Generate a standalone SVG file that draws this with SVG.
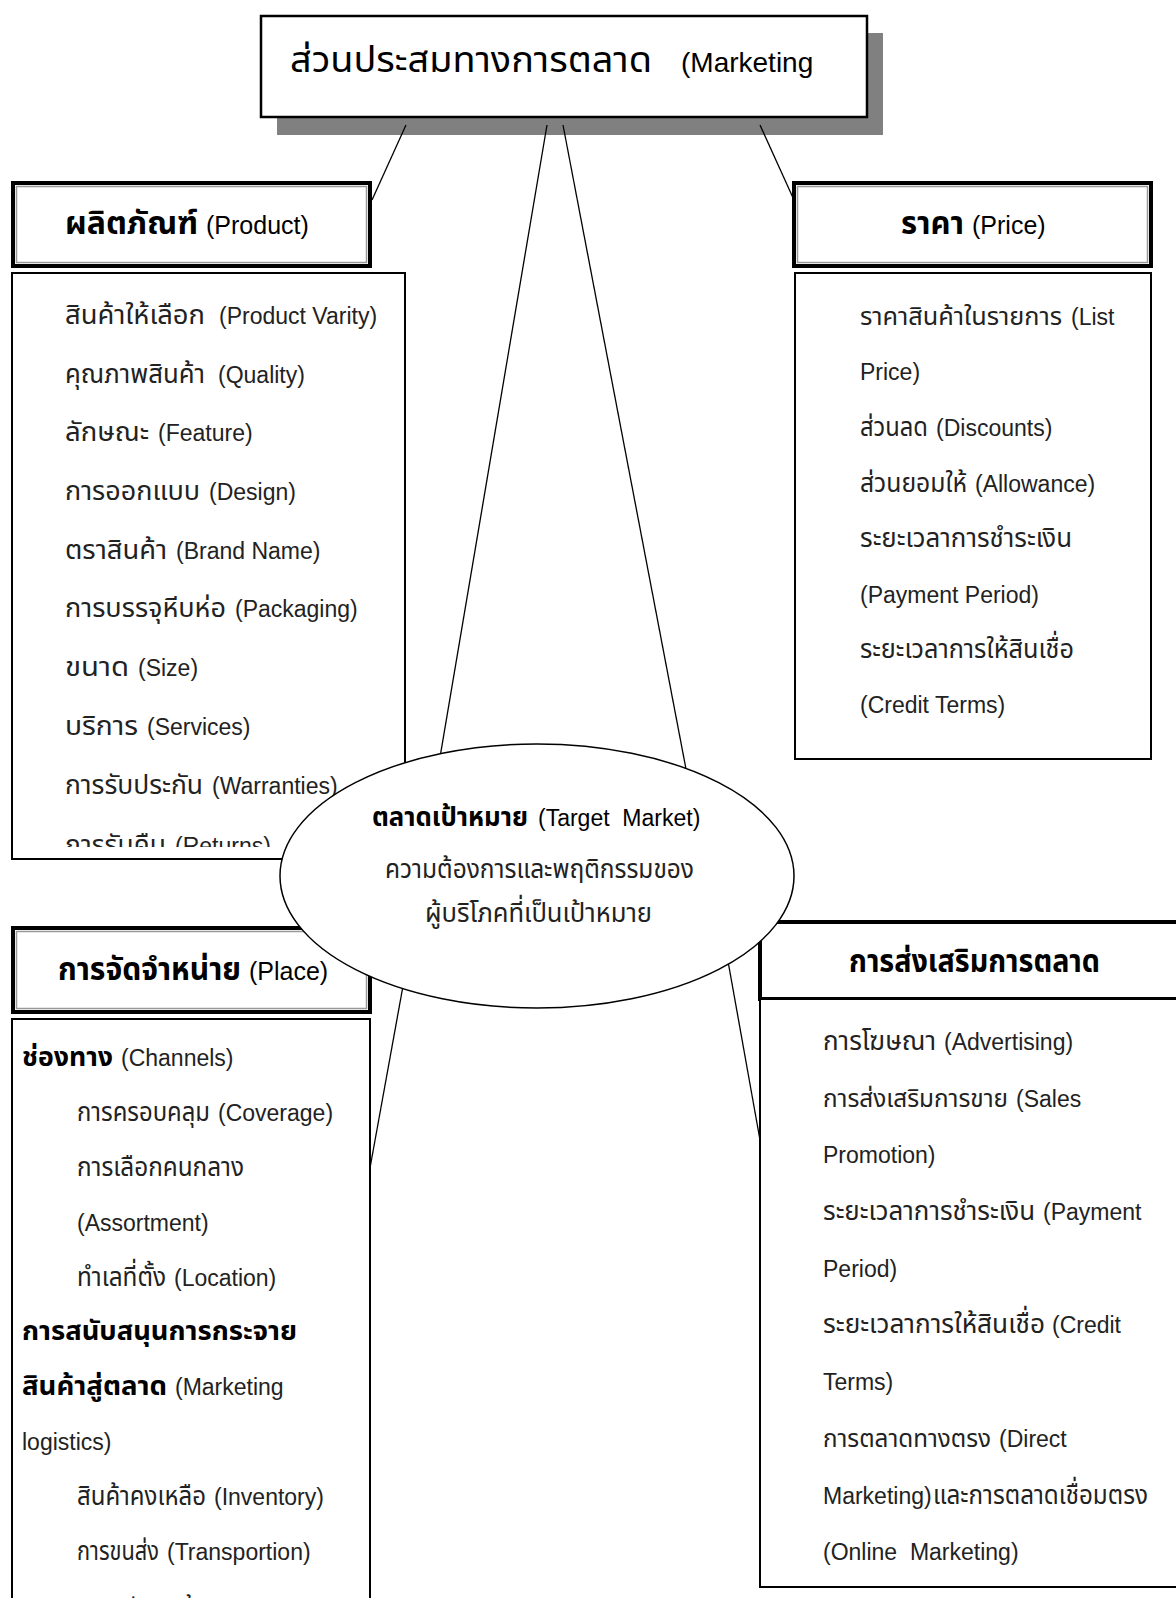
<svg xmlns="http://www.w3.org/2000/svg" width="1176" height="1598" viewBox="0 0 1176 1598">
<style>
text{font-family:"Liberation Sans","Noto Sans Thai","Noto Sans","DejaVu Sans",sans-serif;fill:#000;white-space:pre}
.t{font-size:28px}
.h{font-size:25px}
.i{font-size:23px;fill:#222}
.tt{font-size:36px}
.th{font-size:31px}
.ti{font-size:27px}
.ts{font-size:25px}
.b{font-weight:bold}
.k{fill:#000}
.box{fill:#fff;stroke:#000;stroke-width:2}
.frame{fill:#fff;stroke:#000;stroke-width:4}
.inner{fill:none;stroke:#999;stroke-width:1.5}
.con{stroke:#000;stroke-width:1.3;fill:none}
</style>
<defs>
<clipPath id="clipProd"><rect x="12" y="273" width="393" height="574"/></clipPath>
</defs>
<rect width="1176" height="1598" fill="#fff"/>

<g id="title">
<rect x="277" y="33" width="606" height="102" fill="#808080"/>
<rect x="261" y="16" width="606" height="101" fill="#fff" stroke="#000" stroke-width="2.5"/>
<text class="t" x="290" y="72"><tspan class="tt" textLength="362" lengthAdjust="spacingAndGlyphs">ส่วนประสมทางการตลาด</tspan><tspan x="681">(Marketing</tspan></text>
</g>

<g id="product">
<rect class="frame" x="13" y="183" width="357" height="83"/>
<rect class="inner" x="16.5" y="186.5" width="350" height="76"/>
<text class="h" x="65" y="234"><tspan class="th b" textLength="133" lengthAdjust="spacingAndGlyphs">ผลิตภัณฑ์</tspan><tspan x="206">(Product)</tspan></text>
<rect class="box" x="12" y="273" width="393" height="586"/>
<g clip-path="url(#clipProd)">
<text class="i" x="65" y="324"><tspan class="ti" textLength="140" lengthAdjust="spacingAndGlyphs">สินค้าให้เลือก</tspan><tspan x="219">(Product Varity)</tspan></text>
<text class="i" x="65" y="383"><tspan class="ti" textLength="140" lengthAdjust="spacingAndGlyphs">คุณภาพสินค้า</tspan><tspan x="218">(Quality)</tspan></text>
<text class="i" x="65" y="441"><tspan class="ti" textLength="84" lengthAdjust="spacingAndGlyphs">ลักษณะ</tspan><tspan x="158">(Feature)</tspan></text>
<text class="i" x="65" y="500"><tspan class="ti" textLength="135" lengthAdjust="spacingAndGlyphs">การออกแบบ</tspan><tspan x="209">(Design)</tspan></text>
<text class="i" x="65" y="559"><tspan class="ti" textLength="102" lengthAdjust="spacingAndGlyphs">ตราสินค้า</tspan><tspan x="176">(Brand Name)</tspan></text>
<text class="i" x="65" y="617"><tspan class="ti" textLength="161" lengthAdjust="spacingAndGlyphs">การบรรจุหีบห่อ</tspan><tspan x="235">(Packaging)</tspan></text>
<text class="i" x="65" y="676"><tspan class="ti" textLength="64" lengthAdjust="spacingAndGlyphs">ขนาด</tspan><tspan x="138">(Size)</tspan></text>
<text class="i" x="65" y="735"><tspan class="ti" textLength="73" lengthAdjust="spacingAndGlyphs">บริการ</tspan><tspan x="147">(Services)</tspan></text>
<text class="i" x="65" y="794"><tspan class="ti" textLength="138" lengthAdjust="spacingAndGlyphs">การรับประกัน</tspan><tspan x="212">(Warranties)</tspan></text>
<text class="i" x="65" y="854"><tspan class="ti" textLength="101" lengthAdjust="spacingAndGlyphs">การรับคืน</tspan><tspan x="175">(Returns)</tspan></text>
</g>
</g>

<g id="price">
<rect class="frame" x="794" y="183" width="357" height="83"/>
<rect class="inner" x="797.5" y="186.5" width="350" height="76"/>
<text class="h" x="901" y="234"><tspan class="th b" textLength="63" lengthAdjust="spacingAndGlyphs">ราคา</tspan><tspan x="972">(Price)</tspan></text>
<rect class="box" x="795" y="273" width="356" height="486"/>
<text class="i" x="860" y="325"><tspan class="ts" textLength="202" lengthAdjust="spacingAndGlyphs">ราคาสินค้าในรายการ</tspan><tspan x="1071">(List</tspan></text>
<text class="i" x="860" y="380">Price)</text>
<text class="i" x="860" y="436"><tspan class="ti" textLength="68" lengthAdjust="spacingAndGlyphs">ส่วนลด</tspan><tspan x="936">(Discounts)</tspan></text>
<text class="i" x="860" y="492"><tspan class="ti" textLength="107" lengthAdjust="spacingAndGlyphs">ส่วนยอมให้</tspan><tspan x="975">(Allowance)</tspan></text>
<text class="i" x="860" y="547"><tspan class="ti" textLength="212" lengthAdjust="spacingAndGlyphs">ระยะเวลาการชำระเงิน</tspan></text>
<text class="i" x="860" y="603">(Payment Period)</text>
<text class="i" x="860" y="658"><tspan class="ti" textLength="214" lengthAdjust="spacingAndGlyphs">ระยะเวลาการให้สินเชื่อ</tspan></text>
<text class="i" x="860" y="713">(Credit Terms)</text>
</g>

<g id="place">
<rect class="frame" x="13" y="928" width="357" height="84"/>
<rect class="inner" x="16.5" y="931.5" width="350" height="77"/>
<text class="h" x="58" y="980"><tspan class="th b" textLength="183" lengthAdjust="spacingAndGlyphs">การจัดจำหน่าย</tspan><tspan x="249">(Place)</tspan></text>
<rect class="box" x="12" y="1019" width="358" height="620"/>
<text class="i" x="22" y="1066"><tspan class="ti b k" textLength="91" lengthAdjust="spacingAndGlyphs">ช่องทาง</tspan><tspan x="121">(Channels)</tspan></text>
<text class="i" x="77" y="1121"><tspan class="ti" textLength="133" lengthAdjust="spacingAndGlyphs">การครอบคลุม</tspan><tspan x="218">(Coverage)</tspan></text>
<text class="i" x="77" y="1176"><tspan class="ti" textLength="167" lengthAdjust="spacingAndGlyphs">การเลือกคนกลาง</tspan></text>
<text class="i" x="77" y="1231">(Assortment)</text>
<text class="i" x="77" y="1286"><tspan class="ti" textLength="89" lengthAdjust="spacingAndGlyphs">ทำเลที่ตั้ง</tspan><tspan x="174">(Location)</tspan></text>
<text class="i" x="22" y="1340"><tspan class="ti b k" textLength="275" lengthAdjust="spacingAndGlyphs">การสนับสนุนการกระจาย</tspan></text>
<text class="i" x="22" y="1395"><tspan class="ti b k" textLength="145" lengthAdjust="spacingAndGlyphs">สินค้าสู่ตลาด</tspan><tspan x="175">(Marketing</tspan></text>
<text class="i" x="22" y="1450">logistics)</text>
<text class="i" x="77" y="1505"><tspan class="ti" textLength="129" lengthAdjust="spacingAndGlyphs">สินค้าคงเหลือ</tspan><tspan x="214">(Inventory)</tspan></text>
<text class="i" x="77" y="1560"><tspan class="ti" textLength="82" lengthAdjust="spacingAndGlyphs">การขนส่ง</tspan><tspan x="167">(Transportion)</tspan></text>
<text class="i" x="77" y="1617"><tspan class="ti" textLength="128" lengthAdjust="spacingAndGlyphs">การคลังสินค้า</tspan><tspan x="213">(Warehousing)</tspan></text>
</g>

<g id="promotion">
<rect class="frame" x="760" y="922" width="440" height="77"/>
<rect class="box" x="760" y="999" width="440" height="588"/>
<text class="h b" x="849" y="972"><tspan class="th" textLength="251" lengthAdjust="spacingAndGlyphs">การส่งเสริมการตลาด</tspan></text>
<text class="i" x="823" y="1050"><tspan class="ti" textLength="113" lengthAdjust="spacingAndGlyphs">การโฆษณา</tspan><tspan x="944">(Advertising)</tspan></text>
<text class="i" x="823" y="1107"><tspan class="ts" textLength="185" lengthAdjust="spacingAndGlyphs">การส่งเสริมการขาย</tspan><tspan x="1016">(Sales</tspan></text>
<text class="i" x="823" y="1163">Promotion)</text>
<text class="i" x="823" y="1220"><tspan class="ti" textLength="212" lengthAdjust="spacingAndGlyphs">ระยะเวลาการชำระเงิน</tspan><tspan x="1043">(Payment</tspan></text>
<text class="i" x="823" y="1277">Period)</text>
<text class="i" x="823" y="1333"><tspan class="ti" textLength="222" lengthAdjust="spacingAndGlyphs">ระยะเวลาการให้สินเชื่อ</tspan><tspan x="1052">(Credit</tspan></text>
<text class="i" x="823" y="1390">Terms)</text>
<text class="i" x="823" y="1447"><tspan class="ts" textLength="168" lengthAdjust="spacingAndGlyphs">การตลาดทางตรง</tspan><tspan x="999">(Direct</tspan></text>
<text class="i" x="823" y="1504">Marketing)<tspan class="ti" x="933" textLength="215" lengthAdjust="spacingAndGlyphs">และการตลาดเชื่อมตรง</tspan></text>
<text class="i" x="823" y="1560">(Online  Marketing)</text>
</g>

<g id="connectors">
<line class="con" x1="406" y1="125" x2="372" y2="200"/>
<line class="con" x1="547" y1="125" x2="437" y2="775"/>
<line class="con" x1="563" y1="125" x2="690" y2="790"/>
<line class="con" x1="760" y1="125" x2="794" y2="200"/>
<line class="con" x1="405" y1="975" x2="370" y2="1168"/>
<line class="con" x1="726" y1="950" x2="760" y2="1140"/>
</g>

<g id="target">
<ellipse cx="537" cy="876" rx="257" ry="132" fill="#fff" stroke="#000" stroke-width="1.5"/>
<text class="i k" x="372" y="826"><tspan class="ti b" textLength="156" lengthAdjust="spacingAndGlyphs">ตลาดเป้าหมาย</tspan><tspan x="538">(Target  Market)</tspan></text>
<text class="i" x="385" y="878"><tspan class="ti" textLength="309" lengthAdjust="spacingAndGlyphs">ความต้องการและพฤติกรรมของ</tspan></text>
<text class="i" x="425" y="922"><tspan class="ti" textLength="227" lengthAdjust="spacingAndGlyphs">ผู้บริโภคที่เป็นเป้าหมาย</tspan></text>
</g>
</svg>
